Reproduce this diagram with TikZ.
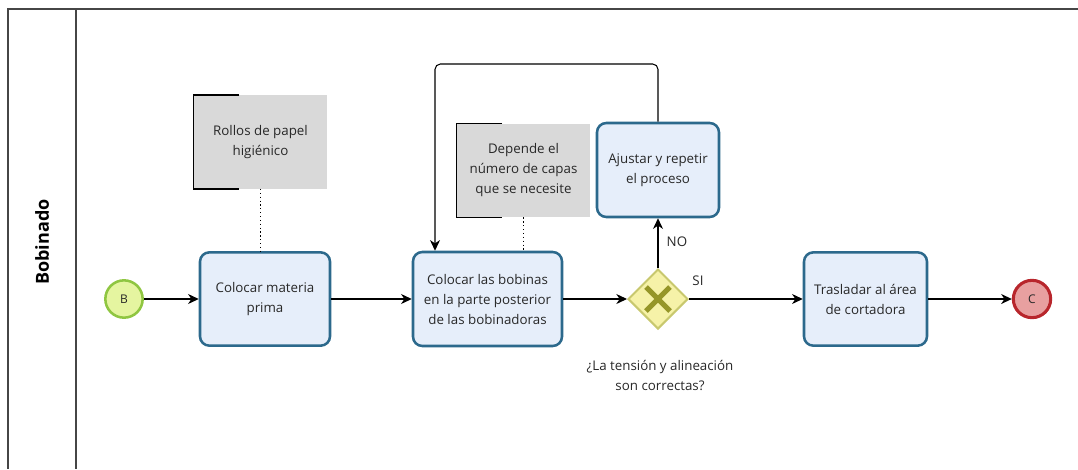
\documentclass[tikz,border=0pt]{standalone}
\usepackage{fontspec}
\setmainfont{Open Sans}
\usetikzlibrary{arrows.meta,shapes.geometric}

\definecolor{taskfill}{RGB}{230,238,250}
\definecolor{taskline}{RGB}{44,105,140}
\definecolor{notefill}{RGB}{217,217,217}
\definecolor{startfill}{RGB}{229,245,160}
\definecolor{startline}{RGB}{143,198,65}
\definecolor{endfill}{RGB}{232,160,160}
\definecolor{endline}{RGB}{184,38,44}
\definecolor{gatefill}{RGB}{246,242,168}
\definecolor{gateline}{RGB}{200,200,110}
\definecolor{gatemark}{RGB}{150,150,40}
\definecolor{lanegray}{RGB}{70,70,70}
\definecolor{txt}{RGB}{40,40,40}

\tikzset{
  task/.style={draw=taskline, fill=taskfill, line width=1.9pt, rounded corners=7pt,
    align=center, text=txt, font=\fontsize{10}{15}\selectfont, inner sep=2pt},
  note/.style={fill=notefill, align=center, text=txt,
    font=\fontsize{10}{15}\selectfont, inner sep=2pt,
    minimum width=99.75pt, minimum height=70pt},
  bracket/.style={draw=black, line width=0.9pt},
  startev/.style={circle, draw=startline, fill=startfill, line width=1.9pt,
    minimum size=28pt, inner sep=0pt, text=txt, font=\fontsize{9}{10}\selectfont},
  endev/.style={circle, draw=endline, fill=endfill, line width=2.3pt,
    minimum size=28pt, inner sep=0pt, text=txt, font=\fontsize{9}{10}\selectfont},
  gate/.style={diamond, draw=gateline, fill=gatefill, line width=1.5pt,
    minimum size=45pt, inner sep=0pt},
  flow/.style={draw=black, line width=0.8pt, -{Stealth[length=8pt,width=7.5pt,inset=2.5pt]}},
  assoc/.style={draw=black, line width=0.9pt, dotted},
  lbl/.style={text=txt, font=\fontsize{10}{15}\selectfont, align=center},
  lane/.style={draw=lanegray, line width=1.5pt}
}

\begin{document}
\begin{tikzpicture}[x=0.75pt, y=-0.75pt]
  \useasboundingbox (0,0) rectangle (1078,469);

  % pool and lane header
  \draw[lane] (1078,9) -- (8,9) -- (8,469);
  \draw[lane] (76,9) -- (76,469);
  \node[rotate=90, font=\fontsize{13.5}{15}\selectfont\bfseries, text=black] (lanename) at (42,242) {Bobinado};

  % events
  \node[startev] (start) at (124,299) {B};
  \node[endev] (finish) at (1032,299) {C};

  % tasks
  \node[task, minimum width=97.5pt, minimum height=70pt] (t1) at (265,299) {Colocar materia\\prima};
  \node[task, minimum width=111.75pt, minimum height=70.5pt] (t2) at (487.5,299) {Colocar las bobinas\\en la parte posterior\\de las bobinadoras};
  \node[task, minimum width=91.5pt, minimum height=70.5pt] (aj) at (658,170) {Ajustar y repetir\\el proceso};
  \node[task, minimum width=92.25pt, minimum height=70pt] (t3) at (865.5,299) {Trasladar al área\\de cortadora};

  % gateway with exclusive mark
  \node[gate] (gw) at (658,299) {};
  \draw[gatemark, line width=3.8pt] ([shift={(-12,-12)}]gw.center) -- ([shift={(12,12)}]gw.center);
  \draw[gatemark, line width=3.8pt] ([shift={(-12,12)}]gw.center) -- ([shift={(12,-12)}]gw.center);
  \node[lbl] (gwq) at (660,375) {¿La tensión y alineación\\son correctas?};

  % annotations
  \node[note] (n1) at (260.5,142) {Rollos de papel\\higiénico};
  \node[note] (n2) at (523.5,170.5) {Depende el\\número de capas\\que se necesite};
  \draw[bracket] ([xshift=34pt]n1.north west) -- (n1.north west) -- (n1.south west) -- ([xshift=34pt]n1.south west);
  \draw[bracket] ([xshift=34pt]n2.north west) -- (n2.north west) -- (n2.south west) -- ([xshift=34pt]n2.south west);
  \draw[assoc] (n1.south) -- (n1.south |- t1.north);
  \draw[assoc] (n2.south) -- (n2.south |- t2.north);

  % sequence flows
  \draw[flow] (start) -- (t1);
  \draw[flow] (t1.east) -- (t2.west);
  \draw[flow] (t2.east) -- (gw.west);
  \draw[flow] (gw.east) -- (t3.west);
  \draw[flow] (t3.east) -- (finish.west);
  \draw[flow] (gw.north) -- (aj.south);

  % loop back from the adjustment task
  \coordinate (loopR) at (658,64);
  \coordinate (loopL) at (435,64);
  \draw[flow, rounded corners=4pt] (aj.north) -- (loopR) -- (loopL) -- (loopL |- t2.north);

  % flow labels
  \node[lbl, anchor=west] (lno) at (662,242) {NO};
  \node[lbl] (lsi) at (698,281) {SI};
\end{tikzpicture}
\end{document}
